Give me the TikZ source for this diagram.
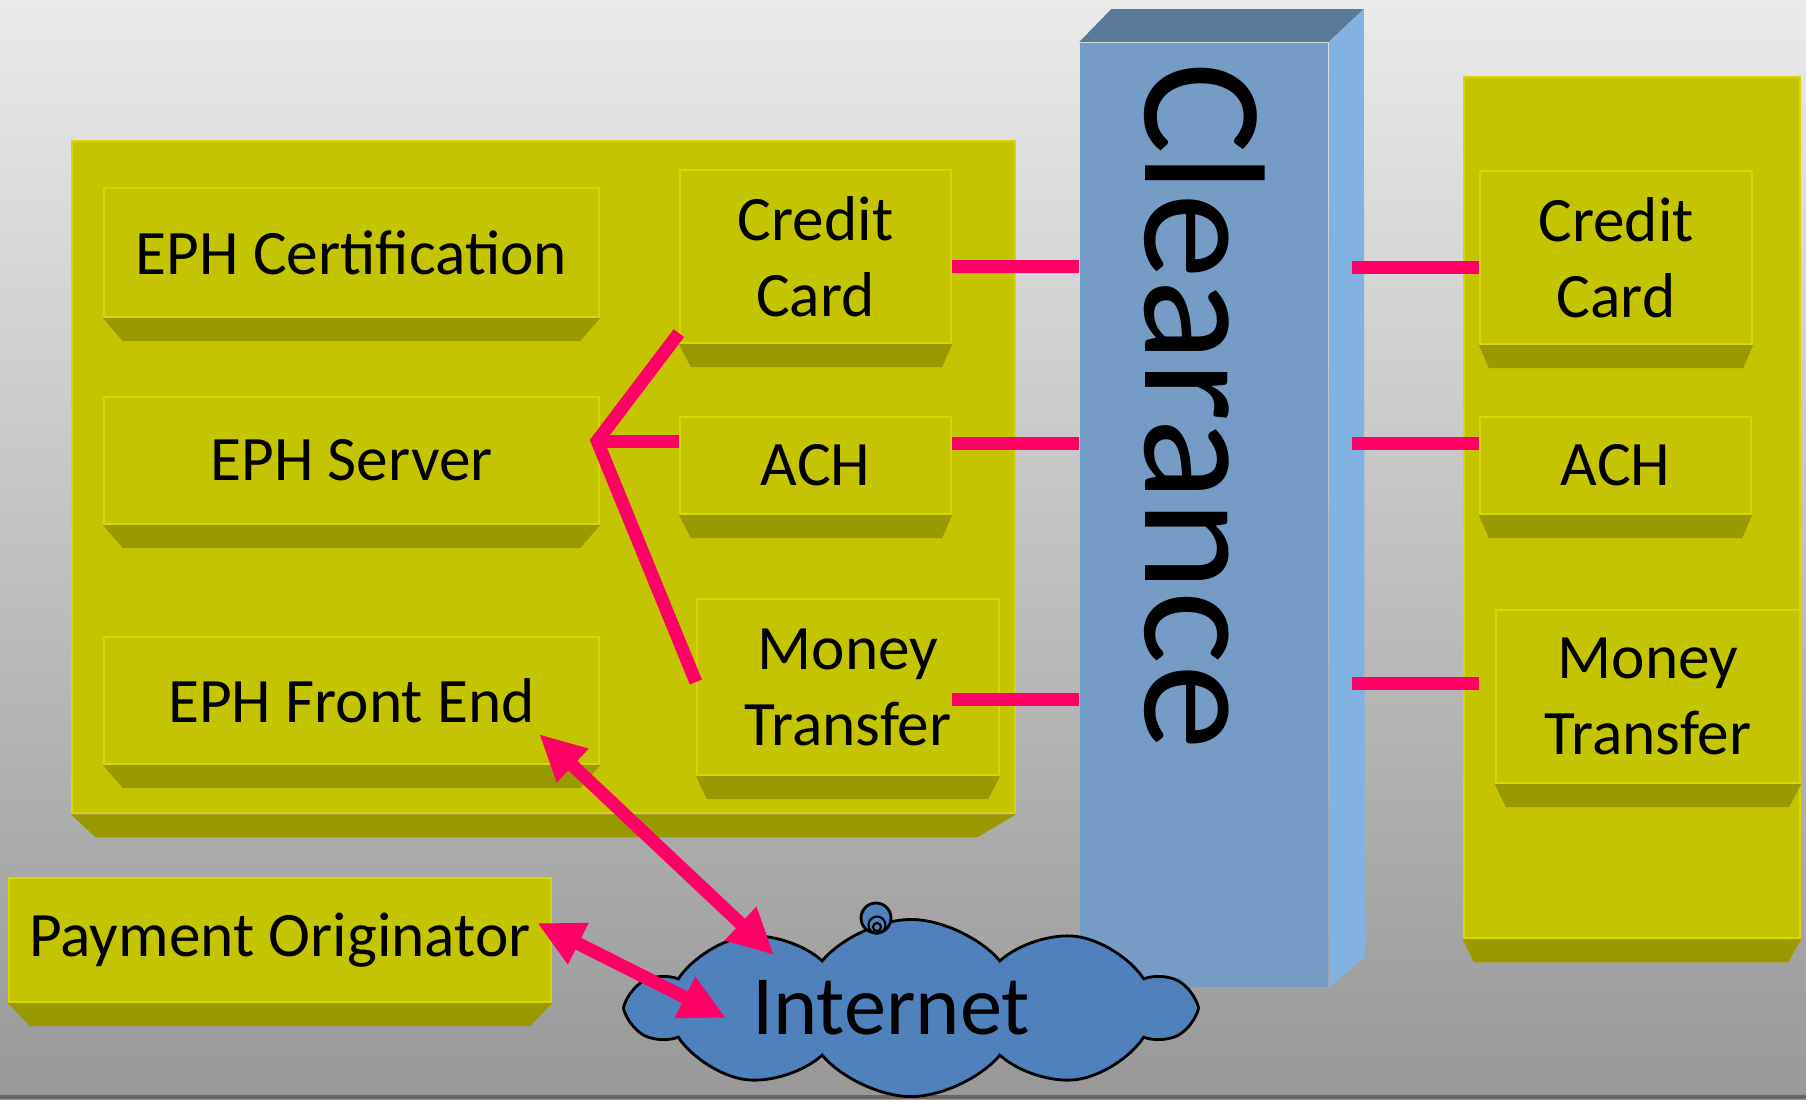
\documentclass[tikz,border=0pt]{standalone}
\usepackage{fontspec}
\setmainfont{Carlito}
\usetikzlibrary{calc,shapes.symbols,arrows.meta}
\definecolor{ephyellow}{RGB}{196,196,0}
\definecolor{ephbevel}{RGB}{153,153,0}
\definecolor{ephedge}{RGB}{214,214,0}
\definecolor{linkpink}{RGB}{255,0,102}
\definecolor{clearfront}{RGB}{116,156,196}
\definecolor{cleartop}{RGB}{91,121,152}
\definecolor{clearside}{RGB}{132,178,224}
\definecolor{cloudblue}{RGB}{79,129,189}
\definecolor{bgtop}{RGB}{234,234,234}
\definecolor{bgbottom}{RGB}{152,152,152}

\newcommand{\bevel}[3]{%
  \fill[ephbevel] (#1.south west) -- (#1.south east) -- ($(#1.south east)+(-#3,23)$) -- ($(#1.south west)+(#2,23)$) -- cycle;}

\tikzset{
  slab/.style={fill=ephyellow,draw=ephedge,line width=0.6pt,inner sep=0pt,align=center,
    font=\fontsize{18}{21.6}\selectfont},
  link/.style={draw=linkpink,line width=3.7pt},
  dualtip/.style={{Triangle[length=4.6mm,width=4.3mm]}-{Triangle[length=4.6mm,width=4.3mm]}}
}

\begin{document}
\begin{tikzpicture}[x=0.01cm,y=-0.01cm]
\useasboundingbox (0,0) rectangle (1806,1099);
\shade[top color=bgtop,bottom color=bgbottom] (0,0) rectangle (1806,1099);
\fill[black!60] (0,1095) rectangle (1806,1099);

\node[slab,minimum width=9.43cm,minimum height=6.72cm] (panelL) at (543.5,477) {};
\bevel{panelL}{25}{39}
\node[slab,minimum width=3.36cm,minimum height=8.61cm] (panelR) at (1632,507.5) {};
\bevel{panelR}{11}{13}

\node[slab,minimum width=4.95cm,minimum height=1.29cm] (cert) at (351.5,252.5) {EPH Certification};
\bevel{cert}{20}{20}
\node[slab,minimum width=4.95cm,minimum height=1.27cm] (server) at (351.5,460.5) {EPH Server};
\bevel{server}{20}{20}
\node[slab,minimum width=4.95cm,minimum height=1.27cm] (front) at (351.5,700.5) {EPH Front End};
\bevel{front}{20}{20}
\node[slab,minimum width=2.71cm,minimum height=1.73cm] (ccL) at (815.5,256.5) {Credit\\Card};
\bevel{ccL}{12}{10}
\node[slab,minimum width=2.71cm,minimum height=0.97cm] (achL) at (815.5,465.5) {ACH};
\bevel{achL}{12}{10}
\node[slab,minimum width=3.02cm,minimum height=1.76cm] (mtL) at (848,687) {Money\\Transfer};
\bevel{mtL}{11}{12}
\node[slab,minimum width=2.72cm,minimum height=1.73cm] (ccR) at (1616,257.5) {Credit\\Card};
\bevel{ccR}{10}{10}
\node[slab,minimum width=2.71cm,minimum height=0.97cm] (achR) at (1615.5,465.5) {ACH};
\bevel{achR}{10}{10}
\node[slab,minimum width=3.04cm,minimum height=1.73cm] (mtR) at (1648,696.5) {Money\\Transfer};
\bevel{mtR}{11}{12}
\node[slab,minimum width=5.42cm,minimum height=1.24cm] (pay) at (280,940) {Payment Originator};
\bevel{pay}{22}{22}

\node[fill=clearfront,inner sep=0pt,minimum width=2.48cm,minimum height=9.44cm] (clear) at (1204,515) {};
\fill[cleartop] (clear.north west) -- ++(32,-33) -- ($(clear.north east)+(35,-33)$) -- (clear.north east) -- cycle;
\fill[clearside] (clear.north east) -- ++(35,-33) -- ($(clear.south east)+(36,-31)$) -- (clear.south east) -- cycle;
\node[rotate=-90,inner sep=0pt,font=\fontsize{49}{50}\selectfont] (cleartxt) at (1205,406) {Clearance};

\draw[link] ($(ccL.east)+(0,9.5)$) -- ($(ccL.east -| clear.west)+(0,9.5)$);
\draw[link] ($(achL.east)+(0,-22.5)$) -- ($(achL.east -| clear.west)+(0,-22.5)$);
\draw[link] ($(achL.east |- mtL)+(0,12)$) -- ($(clear.west |- mtL)+(0,12)$);
\draw[link] ($(ccR.west -| clear.east)+(23,9.5)$) -- ($(ccR.west)+(0,9.5)$);
\draw[link] ($(achR.west -| clear.east)+(23,-22.5)$) -- ($(achR.west)+(0,-22.5)$);
\draw[link] ($(mtR -| clear.east)+(23,-13.5)$) -- ($(ccR.west |- mtR)+(0,-13.5)$);

\coordinate (hub) at ($(server.east)+(-3,-19.5)$);
\draw[link] ($(ccL.south west)+(0,-11)$) -- (hub) -- ($(mtL.west)+(0,-5)$);
\draw[link] (hub) -- (hub -| achL.west);

\node[cloud,cloud puffs=10,cloud puff arc=100,aspect=3.2,fill=cloudblue,draw=black,line width=0.8pt,
  minimum width=5.61cm,minimum height=1.77cm,inner sep=0pt,font=\fontsize{24}{26}\selectfont] (inet) at (911,1008) {\hspace*{-0.4cm}Internet};
\draw[fill=cloudblue,line width=0.8pt] (876,918) circle (15);
\draw[line width=0.6pt] (877,925) circle (8.5) (877,927) circle (4);

\draw[link,dualtip] ($(front.south east)+(-61,-31)$) -- ($(inet.center)+(-137,-53)$);
\draw[link,dualtip] ($(pay.east)+(-15,-17)$) -- ($(inet.center)+(-185,10)$);
\end{tikzpicture}
\end{document}
